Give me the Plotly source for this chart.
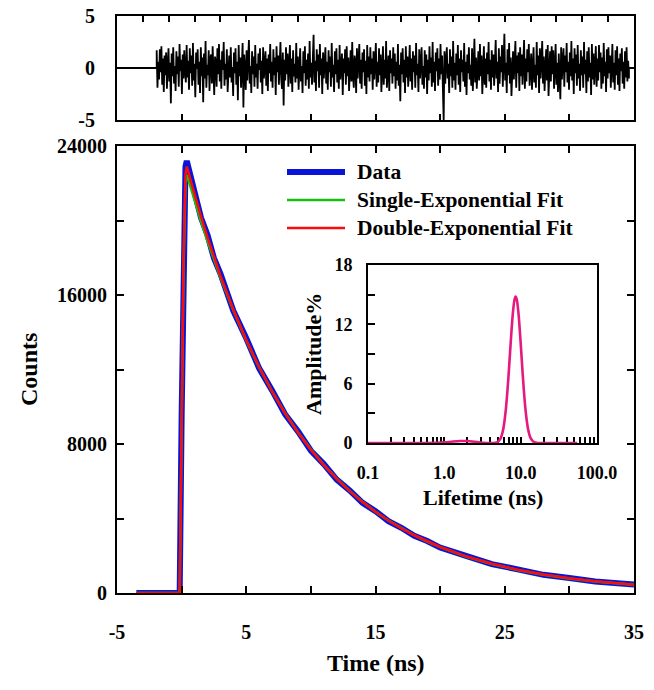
import plotly.graph_objects as go

W, H = 654, 690

# ---------------- main decay data ----------------
time_ns = [-3.5, -0.3, -0.15, 0.0, 0.15, 0.3, 0.4, 0.6, 1.0, 1.5, 2.0, 2.5, 3.0,
           4.0, 5.0, 6.0, 7.0, 8.0, 9.0, 10.0, 11.0, 12.0, 13.0, 14.0, 15.0, 16.0,
           17.0, 18.0, 19.0, 20.0, 22.0, 24.0, 26.0, 28.0, 30.0, 32.0, 35.0]
data_counts = [0, 0, 0, 9500, 18600, 22900, 23200, 22650, 21520, 20150, 19230, 17980, 17150,
               15150, 13680, 12060, 10880, 9600, 8680, 7640, 6920, 6090, 5510, 4840, 4390, 3860,
               3500, 3070, 2790, 2440, 1990, 1550, 1270, 975, 805, 615, 462]
single_fit = [0, 0, 0, 8800, 17600, 22000, 22450, 22000, 21050, 19950, 18900, 17900, 16950,
              15180, 13560, 12110, 10820, 9660, 8630, 7705, 6880, 6140, 5480, 4890, 4365, 3895,
              3475, 3100, 2765, 2465, 1960, 1560, 1240, 985, 782, 622, 440]
double_fit = [0, 0, 0, 9000, 18000, 22500, 22900, 22400, 21390, 20210, 19090, 18040, 17040,
              15210, 13580, 12120, 10820, 9655, 8620, 7690, 6870, 6130, 5470, 4880, 4360, 3890,
              3470, 3100, 2770, 2470, 1970, 1570, 1250, 995, 792, 632, 449]

# ---------------- residuals (one value per channel) ----------------
res_start_ns = -1.93
res_channel_ns = 0.061
residuals = [
    1.7, -1.9, 0.6, -1.1, 1.8, -0.4, 2.1, -1.6, 0.9, -2.3, 1.2, -0.7, 1.5, -2.0, 0.3, 1.9, -1.3, 0.5, -3.4, 1.4,
    -0.8, 2.0, -1.5, 0.2, -2.2, 1.6, -0.6, 1.1, -1.8, 2.3, -0.3, 0.8, -2.5, 1.3, -1.0, 1.7, -0.2, -1.4, 2.2, -0.9,
    0.7, -2.1, 1.9, -0.5, 1.2, -1.7, 2.4, -1.2, 0.4, -2.8, 1.5, -0.1, 1.8, -1.6, 0.6, -2.4, 2.0, -0.8, 1.0, -3.3,
    1.4, -1.0, 2.6, -1.9, 0.3, -0.7, 1.7, -2.2, 0.9, 1.3, -1.5, 2.1, -0.4, -2.6, 1.1, 0.5, -1.8, 1.9, -0.6, 2.3,
    -1.3, 0.8, -2.0, 1.6, -0.2, 2.5, -1.7, 0.4, -1.1, 1.8, -2.3, 0.7, 1.2, -0.9, 2.0, -1.4, 0.1, -2.7, 1.5, -0.5,
    1.9, -1.6, 0.6, -3.1, 2.2, -0.8, 1.0, -1.9, 0.5, 2.4, -3.8, 1.3, -0.3, -2.1, 1.7, -1.2, 0.9, 2.7, -1.5, 0.2,
    -2.4, 1.6, -0.6, 1.1, -1.8, 2.2, -0.9, 0.4, -2.0, 1.4, -0.2, 1.9, -1.4, 0.7, -2.5, 2.0, -1.0, 0.3, 1.6, -1.7,
    0.9, -2.2, 1.3, -0.5, 2.3, -1.3, 0.6, -1.9, 1.8, -0.7, 1.0, -2.6, 2.1, -0.4, 1.2, -1.6, 0.5, 2.5, -1.1, -2.0,
    1.5, -3.6, 0.8, -1.2, 2.0, -0.6, 1.4, -1.8, 0.3, 2.2, -1.5, 0.9, -2.3, 1.7, -0.8, 0.4, -1.4, 2.4, -1.0, 1.1,
    -2.1, 0.6, 1.9, -1.3, 0.2, -2.4, 1.6, -0.5, 2.1, -1.7, 0.8, -1.1, 1.4, -2.0, 2.6, -0.9, 0.5, -1.6, 1.2, 3.2,
    -1.4, 0.7, -2.2, 1.8, -0.3, 1.3, -1.9, 2.3, -0.7, 0.9, -2.5, 1.5, -1.0, 0.4, 2.0, -1.5, 0.6, -2.1, 1.7, -0.4,
    1.1, -1.8, 2.4, -0.9, 0.3, -2.3, 1.6, -0.6, 1.9, -1.4, 0.8, -2.0, 2.2, -1.1, 0.5, 1.4, -2.6, 0.9, -0.5, 1.8,
    -1.6, 2.1, -0.8, 1.0, -2.2, 0.4, 1.7, -1.3, 2.5, -0.7, -1.9, 1.2, 0.6, -2.4, 1.9, -1.0, 0.2, 2.3, -1.5, 0.8,
    -2.0, 1.5, -0.4, 1.8, -1.7, 0.7, -2.5, 2.2, -0.9, 1.1, -1.3, 2.0, -0.6, 0.9, -2.1, 1.6, -1.1, 0.3, 2.4, -1.8,
    0.6, -1.4, 1.9, -0.7, 1.3, -2.3, 0.5, 2.1, -1.6, 0.8, -1.0, 2.6, -1.9, 0.4, 1.2, -2.2, 1.7, -0.5, 0.9, -1.5,
    2.0, -0.8, 1.4, -2.0, 0.6, -1.2, 2.3, -1.7, 0.3, -3.2, 1.5, -0.6, 1.9, -1.4, 0.8, -2.4, 2.1, -0.9, 1.1, -1.8,
    0.5, 2.2, -1.3, 0.9, -2.1, 1.6, -0.4, 1.2, -1.9, 2.4, -0.7, 0.4, -2.3, 1.8, -1.0, 0.7, 2.0, -1.6, 0.2, -2.0,
    1.7, -0.9, 1.3, -2.5, 0.8, -1.2, 2.1, -0.5, 1.0, -1.8, 2.5, -1.4, 0.6, -2.2, 1.5, -0.3, 1.9, -1.7, 0.9, -1.1,
    2.3, -0.6, 1.2, -2.0, -5.0, 1.6, -1.5, 0.7, 2.0, -1.0, 0.4, -2.4, 1.8, -0.8, 1.1, -1.9, 2.6, -1.2, 0.5, -2.1,
    1.4, -0.7, 2.2, -1.6, 0.9, -2.3, 1.7, -0.4, 0.8, -1.3, 2.4, -1.8, 0.6, -2.6, 1.3, -0.5, 2.0, -1.1, 0.3, -1.7,
    1.9, -2.2, 0.7, 2.8, -1.4, 1.0, -2.0, 0.5, 1.6, -1.2, 2.3, -0.8, 1.2, -2.5, 0.4, 2.1, -1.6, 0.9, -1.9, 1.5,
    -0.6, 2.5, -1.3, 0.8, -2.1, 1.7, -0.9, 1.3, -1.7, 0.2, 2.7, -1.0, 0.6, -2.3, 1.9, -1.5, 1.1, -0.4, 2.2, -1.8,
    0.9, 3.3, -1.2, 0.5, -2.4, 1.8, -0.7, 2.4, -1.5, 1.0, -2.7, 0.7, 1.6, -1.1, 0.3, 2.6, -1.9, 1.2, -0.5, 1.5,
    -2.2, 2.0, -0.8, 1.3, -1.6, 0.6, 2.7, -2.0, 0.9, -1.3, 1.8, -0.4, 2.3, -1.7, 0.5, 1.4, -2.1, 1.0, 2.0, -1.4,
    0.3, -1.9, 2.5, -0.7, 1.2, -2.4, 1.9, -1.0, 0.6, 2.6, -1.5, 1.1, -2.2, 0.4, 1.8, -1.2, 2.2, -2.7, 0.8, 1.6,
    -1.3, 2.1, -0.6, 1.7, -2.0, 0.9, 2.3, -1.6, 0.5, -2.3, 1.4, -0.9, -3.0, 2.0, -1.1, 0.7, 1.9, -1.8, 1.2, -0.4,
    2.4, -1.4, 0.6, -2.1, 1.5, -0.8, 2.6, -1.2, 0.9, -2.5, 1.9, -0.5, 1.3, -1.7, 2.2, -1.0, 0.4, -2.2, 1.7, -0.7,
    1.1, -1.9, 2.5, -0.6, 0.8, -2.4, 1.6, -1.3, 2.0, -0.9, 0.5, -2.6, 2.3, -1.1, 1.4, -1.6, 0.7, 2.1, -1.8, 0.9,
    -1.2, 2.2, -0.4, 1.5, -2.0, 1.0, -1.5, 2.4, -0.8, 0.6, -2.3, 1.8, -1.0, 2.0, -0.5, 1.2, -1.9, 0.8, 2.3, -1.4,
    0.5, -2.1, 1.7, -0.7, 2.1, -1.6, 0.9, -2.2, 1.4, -0.3, 1.9, -1.5, 0.6, -2.0, 1.6, -0.9, 2.0, -1.3, 0.7, -1.0,
]

# ---------------- lifetime distribution (inset) ----------------
lifetime_ns = [0.1, 0.4, 0.8, 1.0, 1.3, 1.6, 2.0, 2.5, 3.2, 4.3, 4.9, 5.4, 5.9, 6.4, 6.9, 7.4,
               7.9, 8.3, 8.6, 8.9, 9.3, 9.8, 10.4, 11.0, 11.7, 12.5, 13.5, 15.0, 17.0, 30.0, 55.0]
amplitude_pct = [0, 0, 0.02, 0.06, 0.15, 0.2, 0.2, 0.12, 0.03, 0, 0.07, 0.39, 1.37, 3.43, 6.56, 10.13,
                 13.11, 14.49, 14.8, 14.51, 13.35, 11.12, 8.08, 5.36, 3.02, 1.42, 0.49, 0.08, 0, 0, 0]

x_range = [-5, 35]
main_x_ticks = [-5, 5, 15, 25, 35]
main_x_labels = ["-5", "5", "15", "25", "35"]
main_y_ticks = [0, 8000, 16000, 24000]
main_y_labels = ["0", "8000", "16000", "24000"]
res_y_ticks = [-5, 0, 5]
res_y_labels = ["-5", "0", "5"]
inset_x_ticks = [0.1, 1.0, 10.0, 100.0]
inset_x_labels = ["0.1", "1.0", "10.0", "100.0"]
inset_minor = [0.2, 0.3, 0.4, 0.5, 0.6, 0.7, 0.8, 0.9, 2, 3, 4, 5, 6, 7, 8, 9,
               20, 30, 40, 50, 60, 70, 80, 90]
inset_y_ticks = [0, 6, 12, 18]
inset_y_labels = ["0", "6", "12", "18"]

legend_names = ["Data", "Single-Exponential Fit", "Double-Exponential Fit"]
legend_colors = ["#0a14d8", "#12c012", "#ff0a0a"]
legend_widths = [6, 2.5, 2.5]

FONT = "Liberation Serif"


def px_x(px):
    return px / W


def px_y(py):
    return 1 - py / H


res_time = [res_start_ns + i * res_channel_ns for i in range(len(residuals))]

fig = go.Figure()

# main panel traces
fig.add_trace(go.Scatter(x=time_ns, y=data_counts, mode="lines",
                         line=dict(color=legend_colors[0], width=legend_widths[0]),
                         xaxis="x", yaxis="y", showlegend=False))
fig.add_trace(go.Scatter(x=time_ns, y=single_fit, mode="lines",
                         line=dict(color=legend_colors[1], width=legend_widths[1]),
                         xaxis="x", yaxis="y", showlegend=False))
fig.add_trace(go.Scatter(x=time_ns, y=double_fit, mode="lines",
                         line=dict(color=legend_colors[2], width=legend_widths[2]),
                         xaxis="x", yaxis="y", showlegend=False))

# residual panel (zero outside the fitted window)
fig.add_trace(go.Scatter(x=[x_range[0], res_start_ns] + res_time + [res_time[-1], x_range[1]],
                         y=[0, 0] + residuals + [0, 0], mode="lines",
                         line=dict(color="black", width=1.8),
                         xaxis="x3", yaxis="y3", showlegend=False))
fig.add_trace(go.Scatter(x=x_range, y=[0, 0], mode="lines", opacity=0,
                         xaxis="x4", yaxis="y3", showlegend=False, hoverinfo="skip"))

# inset
fig.add_trace(go.Scatter(x=lifetime_ns, y=amplitude_pct, mode="lines",
                         line=dict(color="#e5197f", width=2.6, shape="spline", smoothing=0.8),
                         xaxis="x2", yaxis="y2", showlegend=False))

tickfont_main = dict(family=FONT, size=20, color="black", weight="bold")
tickfont_inset = dict(family=FONT, size=18, color="black", weight="bold")

xdom = [px_x(117), px_x(634)]
common = dict(showgrid=False, zeroline=False, automargin=False,
              linecolor="black", linewidth=2, showline=True, tickcolor="black",
              ticklabeloverflow="allow")

fig.update_layout(
    width=W, height=H,
    margin=dict(l=0, r=0, t=0, b=0, autoexpand=False),
    paper_bgcolor="white", plot_bgcolor="rgba(0,0,0,0)",
    showlegend=False,
    xaxis=dict(domain=xdom, anchor="y", range=x_range,
               tickvals=main_x_ticks, ticktext=main_x_labels,
               ticks="inside", ticklen=7, tickwidth=2,
               minor=dict(tickvals=[0, 10, 20, 30], ticks="inside", ticklen=7, tickwidth=2,
                          tickcolor="black"),
               mirror="allticks", tickfont=tickfont_main, ticklabelstandoff=20, **common),
    yaxis=dict(domain=[px_y(593), px_y(146)], anchor="x", range=[0, 24000],
               tickvals=main_y_ticks, ticktext=main_y_labels,
               ticks="inside", ticklen=7, tickwidth=2,
               minor=dict(tickvals=[4000, 12000, 20000], ticks="inside", ticklen=7, tickwidth=2,
                          tickcolor="black"),
               mirror="allticks", tickfont=tickfont_main, ticklabelstandoff=4, **common),
    xaxis3=dict(domain=xdom, anchor="y3", range=x_range,
                tickvals=[0, 5, 10, 15, 20, 25, 30], ticks="inside", ticklen=6, tickwidth=2,
                showticklabels=False, **common),
    xaxis4=dict(domain=xdom, anchor="y3", overlaying="x3", side="top", range=x_range,
                tickvals=[-3, -1, 1, 3, 5, 7, 9, 11, 13, 15, 17, 19, 21, 23, 25, 27, 29, 31, 33],
                ticks="inside", ticklen=6, tickwidth=2, showticklabels=False, **common),
    yaxis3=dict(domain=[px_y(120), px_y(16)], anchor="x3", range=[-5, 5],
                tickvals=res_y_ticks, ticktext=res_y_labels, ticks="",
                mirror=True, tickfont=tickfont_main, ticklabelstandoff=16, **common),
    xaxis2=dict(domain=[px_x(368), px_x(597)], anchor="y2", type="log", range=[-1, 2],
                tickvals=inset_x_ticks + inset_minor,
                ticktext=inset_x_labels + [""] * len(inset_minor),
                ticks="inside", ticklen=6, tickwidth=2, mirror=True,
                tickfont=tickfont_inset, ticklabelstandoff=12, layer="below traces", **common),
    yaxis2=dict(domain=[px_y(443), px_y(265)], anchor="x2", range=[0, 18],
                tickvals=inset_y_ticks, ticktext=inset_y_labels,
                ticks="inside", ticklen=7, tickwidth=2,
                minor=dict(tickvals=[3, 9, 15], ticks="inside", ticklen=7, tickwidth=2,
                           tickcolor="black"),
                mirror=True, tickfont=tickfont_inset, ticklabelstandoff=10,
                layer="below traces", **common),
)

# legend drawn manually
legend_rows_px = [172, 200, 228]
shapes = []
annotations = []
for name, color, width, row in zip(legend_names, legend_colors, legend_widths, legend_rows_px):
    shapes.append(dict(type="line", xref="paper", yref="paper",
                       x0=px_x(287), x1=px_x(345), y0=px_y(row), y1=px_y(row),
                       line=dict(color=color, width=width)))
    annotations.append(dict(text=name, xref="paper", yref="paper",
                            x=px_x(355), y=px_y(row), xanchor="left", yanchor="middle",
                            showarrow=False,
                            font=dict(family=FONT, size=21.5, color="black", weight="bold")))

title_font = dict(family=FONT, size=24, color="black", weight="bold")
inset_title_font = dict(family=FONT, size=22, color="black", weight="bold")
annotations += [
    dict(text="Counts", xref="paper", yref="paper", x=px_x(29), y=px_y(370),
         textangle=-90, showarrow=False, font=title_font, xanchor="center", yanchor="middle"),
    dict(text="Time (ns)", xref="paper", yref="paper", x=px_x(376), y=px_y(663),
         showarrow=False, font=title_font, xanchor="center", yanchor="middle"),
    dict(text="Amplitude%", xref="paper", yref="paper", x=px_x(313), y=px_y(354),
         textangle=-90, showarrow=False, font=inset_title_font, xanchor="center", yanchor="middle"),
    dict(text="Lifetime (ns)", xref="paper", yref="paper", x=px_x(483), y=px_y(497),
         showarrow=False, font=inset_title_font, xanchor="center", yanchor="middle"),
]

fig.update_layout(shapes=shapes, annotations=annotations)

# remove the default page margin so the 654x690 figure fills the window exactly
fig.write_html("out.html", config={"displayModeBar": False},
               post_script="document.body.style.margin='0px';")
